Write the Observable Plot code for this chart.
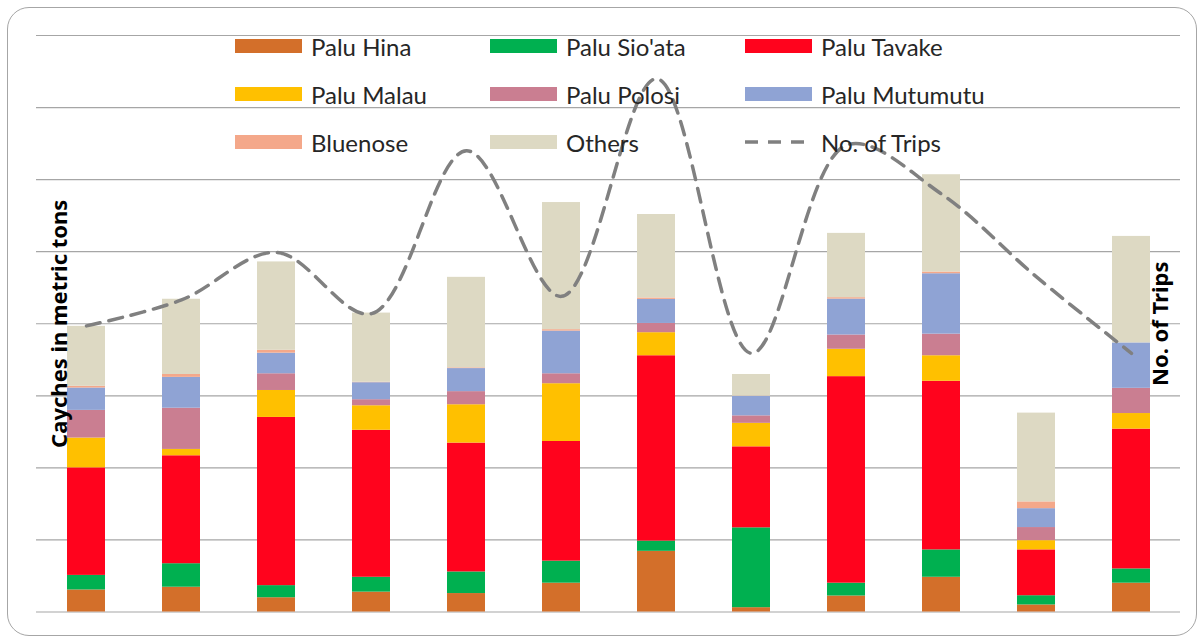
<!DOCTYPE html>
<html>
<head>
<meta charset="utf-8">
<script src="https://cdn.jsdelivr.net/npm/d3@7"></script>
<script src="https://cdn.jsdelivr.net/npm/@observablehq/plot@0.6"></script>
<style>
  html, body { margin: 0; padding: 0; background: #fff; }
  #wrap { position: relative; width: 1203px; height: 637px; overflow: hidden; font-family: Lato, "Open Sans", sans-serif; }
  #frame { position: absolute; left: 7px; top: 7px; width: 1188px; height: 627px; border: 1.5px solid #a6a6a6; border-radius: 22px; pointer-events: none; }
  #chart { position: absolute; left: 0; top: 0; }
  .lg-item { position: absolute; height: 30px; display: flex; align-items: center; font-size: 24px; color: #262626; white-space: nowrap; }
  .lg-sw { width: 67px; height: 14px; margin-right: 9px; flex: none; }
</style>
</head>
<body>
<div id="wrap">
  <div id="chart"></div>
  <div id="legend"></div>
  <div id="frame"></div>
</div>
<script>
// ---- data (units: metric tons, trips) ----
const categories = ["1","2","3","4","5","6","7","8","9","10","11","12"];
const seriesNames = ["Palu Hina","Palu Sio'ata","Palu Tavake","Palu Malau","Palu Polosi","Palu Mutumutu","Bluenose","Others"];
const paluHina     = [15.3, 17.2,   9.9,  13.8, 12.8, 20.0,  42.1,  3.0,  11.1,  24.1,  4.9, 20.0];
const paluSioata   = [10.1, 16.3,   8.4,  10.3, 15.0, 15.3,   7.1, 55.4,   8.9,  19.0,  6.4,  9.9];
const paluTavake   = [74.6, 74.9, 116.7, 102.0, 89.4, 83.0, 128.6, 56.2, 143.3, 117.0, 31.8, 97.0];
const paluMalau    = [20.7,  4.4,  18.7,  17.0, 26.6, 40.1,  16.0, 16.3,  19.0,  17.7,  6.4, 10.8];
const paluPolosi   = [19.2, 28.6,  11.6,   4.2,  9.1,  6.9,   6.4,  5.2,   9.9,  15.0,  9.1, 17.5];
const paluMutumutu = [15.5, 21.4,  14.3,  11.8, 16.0, 29.6,  16.7, 13.5,  24.9,  41.9, 13.1, 31.5];
const bluenose     = [ 1.2,  2.0,   2.0,   0.3,  0.5,  1.0,   1.0,  0.2,   1.0,   1.2,  4.7,  0.0];
const others       = [41.6, 52.2,  61.3,  48.0, 62.8, 88.2,  57.9, 15.0,  44.6,  67.5, 61.6, 73.9];
const trips        = [397, 433, 499, 414, 640, 438, 740, 359, 648, 580, 465, 359];
const tripsLabel = "No. of Trips";
const yTitle = "Cayches in metric tons";
const yTicks = [0, 50, 100, 150, 200, 250, 300, 350, 400];
const tripsMax = 800;

// ---- styles ----
const seriesColors = ["#d36f2a", "#00b050", "#ff031d", "#ffc000", "#ca7e91", "#8fa3d4", "#f4a88a", "#ddd9c3"];
const lineColor = "#808080";
const yMax = 400;

const seriesValues = [paluHina, paluSioata, paluTavake, paluMalau, paluPolosi, paluMutumutu, bluenose, others];
const rows = [];
seriesNames.forEach((s, i) => {
  categories.forEach((c, j) => rows.push({cat: c, series: s, value: seriesValues[i][j]}));
});
const tripRows = categories.map((c, j) => ({cat: c, trips: trips[j]}));

const plot = Plot.plot({
  width: 1203,
  height: 637,
  marginLeft: 36,
  marginRight: 23,
  marginTop: 35,
  marginBottom: 25.5,
  style: {background: "transparent"},
  x: {type: "band", domain: categories, paddingInner: 0.6, paddingOuter: 0.3, axis: null},
  y: {domain: [0, yMax], axis: null},
  color: {domain: seriesNames, range: seriesColors},
  marks: [
    Plot.ruleY(yTicks, {stroke: "#a6a6a6", strokeWidth: 1.2}),
    Plot.barY(rows, {x: "cat", y: "value", fill: "series", order: seriesNames, inset: 0}),
    Plot.line(tripRows, {x: "cat", y: d => d.trips * yMax / tripsMax, curve: "catmull-rom",
      stroke: lineColor, strokeWidth: 3.5, strokeDasharray: "14,9"}),
    Plot.text([yTitle], {frameAnchor: "left", dx: 23, rotate: -90, textAnchor: "middle", fontWeight: "bold", fontSize: 22, fill: "#000"}),
    Plot.text([tripsLabel], {frameAnchor: "right", dx: -20, rotate: -90, textAnchor: "middle", fontWeight: "bold", fontSize: 22, fill: "#000"})
  ]
});
document.getElementById("chart").appendChild(plot);

// ---- legend (3 x 3 grid, overlaid on the plot) ----
const legend = document.getElementById("legend");
const items = seriesNames.map((s, i) => ({label: s, color: seriesColors[i], dashed: false}));
items.push({label: tripsLabel, color: lineColor, dashed: true});
items.forEach((it, k) => {
  const col = k % 3, row = Math.floor(k / 3);
  const div = document.createElement("div");
  div.className = "lg-item";
  div.style.left = (235 + col * 255) + "px";
  div.style.top = (31 + row * 48) + "px";
  if (it.dashed) {
    const ns = "http://www.w3.org/2000/svg";
    const svg = document.createElementNS(ns, "svg");
    svg.setAttribute("width", 67); svg.setAttribute("height", 14);
    svg.style.marginRight = "9px"; svg.style.flex = "none";
    const ln = document.createElementNS(ns, "line");
    ln.setAttribute("x1", 0); ln.setAttribute("x2", 67); ln.setAttribute("y1", 7); ln.setAttribute("y2", 7);
    ln.setAttribute("stroke", it.color); ln.setAttribute("stroke-width", 3.5); ln.setAttribute("stroke-dasharray", "13,10");
    svg.appendChild(ln);
    div.appendChild(svg);
  } else {
    const sw = document.createElement("span");
    sw.className = "lg-sw";
    sw.style.background = it.color;
    div.appendChild(sw);
  }
  const t = document.createElement("span");
  t.textContent = it.label;
  div.appendChild(t);
  legend.appendChild(div);
});
</script>
</body>
</html>
